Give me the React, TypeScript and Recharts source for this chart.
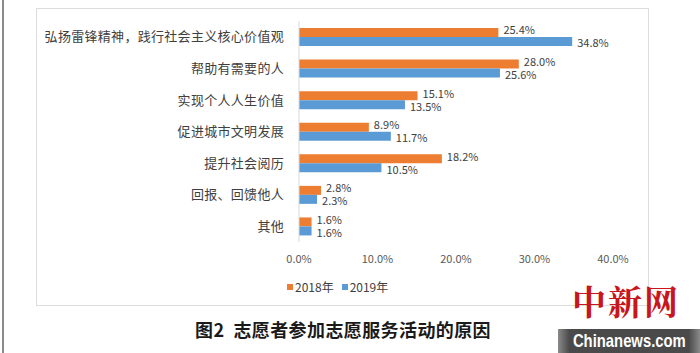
import React from "react";
import { BarChart, Bar, XAxis, YAxis, LabelList } from "recharts";

const categories = [
  "弘扬雷锋精神，践行社会主义核心价值观",
  "帮助有需要的人",
  "实现个人人生价值",
  "促进城市文明发展",
  "提升社会阅历",
  "回报、回馈他人",
  "其他",
];
const values2018 = [25.4, 28.0, 15.1, 8.9, 18.2, 2.8, 1.6];
const values2019 = [34.8, 25.6, 13.5, 11.7, 10.5, 2.3, 1.6];
const xTicks = [0, 10, 20, 30, 40];
const seriesNames = ["2018年", "2019年"];
const title = "图2  志愿者参加志愿服务活动的原因";

const data = categories.map((c, i) => ({ name: c, a: values2018[i], b: values2019[i] }));

const ORANGE = "#ED7D31";
const BLUE = "#5B9BD5";
const FONT = "'Noto Sans CJK SC', 'Noto Sans', sans-serif";

export default function App() {
  return (
    <div style={{ position: "absolute", left: 0, top: 0, width: 700, height: 353, background: "#fff", overflow: "hidden", fontFamily: FONT }}>
      <div style={{ position: "absolute", left: 2, top: 0, width: 2, height: 353, background: "#8a8a8a" }} />
      <div style={{ position: "absolute", left: 36, top: 8, width: 613, height: 298, border: "1px solid #dcdcdc", boxSizing: "border-box" }} />
      <div style={{ position: "absolute", left: 0, top: 0 }}>
        <BarChart
          width={700}
          height={353}
          data={data}
          layout="vertical"
          margin={{ top: 21, right: 87, bottom: 81, left: 0 }}
          barGap={0}
          barCategoryGap="21%"
        >
          <XAxis
            type="number"
            domain={[0, 40]}
            ticks={xTicks}
            axisLine={false}
            tickLine={false}
            height={30}
            tickFormatter={(v: number) => v.toFixed(1) + "%"}
            tick={{ fontSize: 11, fill: "#595959", fontFamily: FONT }}
            dy={5}
          />
          <YAxis
            type="category"
            dataKey="name"
            width={299}
            axisLine={{ stroke: "#d9d9d9" }}
            tickLine={false}
            tick={{ fontSize: 13, fill: "#404040", fontFamily: FONT, letterSpacing: 0.3 }}
            tickMargin={9}
          />
          <Bar dataKey="a" fill={ORANGE} barSize={9} isAnimationActive={false}>
            <LabelList dataKey="a" position="right" offset={5} formatter={(v: number) => v.toFixed(1) + "%"} style={{ fontSize: 11, fill: "#404040", fontFamily: FONT }} dy={-2} />
          </Bar>
          <Bar dataKey="b" fill={BLUE} barSize={9} isAnimationActive={false}>
            <LabelList dataKey="b" position="right" offset={5} formatter={(v: number) => v.toFixed(1) + "%"} style={{ fontSize: 11, fill: "#404040", fontFamily: FONT }} dy={2} />
          </Bar>
        </BarChart>
      </div>
      <div style={{ position: "absolute", left: 287, top: 278, display: "flex", alignItems: "center", fontSize: 12, color: "#404040" }}>
        <span style={{ display: "inline-block", width: 6, height: 6, background: ORANGE, marginRight: 2 }} />
        <span style={{ marginRight: 8 }}>{seriesNames[0]}</span>
        <span style={{ display: "inline-block", width: 6, height: 6, background: BLUE, marginRight: 2 }} />
        <span>{seriesNames[1]}</span>
      </div>
      <div style={{ position: "absolute", left: 0, width: 686, top: 316, textAlign: "center", fontSize: 18, fontWeight: 700, color: "#1a1a1a", whiteSpace: "pre", letterSpacing: 0.4 }}>
        {title}
      </div>
      <div style={{ position: "absolute", left: 572, top: 276, fontSize: 34, color: "#c8161d", fontFamily: "'Noto Serif CJK SC', serif", fontWeight: 700, letterSpacing: 2, lineHeight: "50px" }}>
        中新网
      </div>
      <div style={{ position: "absolute", left: 558, top: 329, width: 142, height: 24, background: "linear-gradient(to right, #8a8a8a, #4a4a4a 8%, #4a4a4a 92%, #8a8a8a)" }} />
      <div style={{ position: "absolute", left: 558, top: 329, width: 142, height: 24, color: "#fff", fontSize: 19, fontWeight: 700, fontFamily: "'Liberation Sans', sans-serif", display: "flex", alignItems: "center", justifyContent: "center", lineHeight: "24px" }}>
        <span style={{ display: "inline-block", transform: "scaleX(0.78)", whiteSpace: "nowrap" }}>Chinanews.com</span>
      </div>
    </div>
  );
}
